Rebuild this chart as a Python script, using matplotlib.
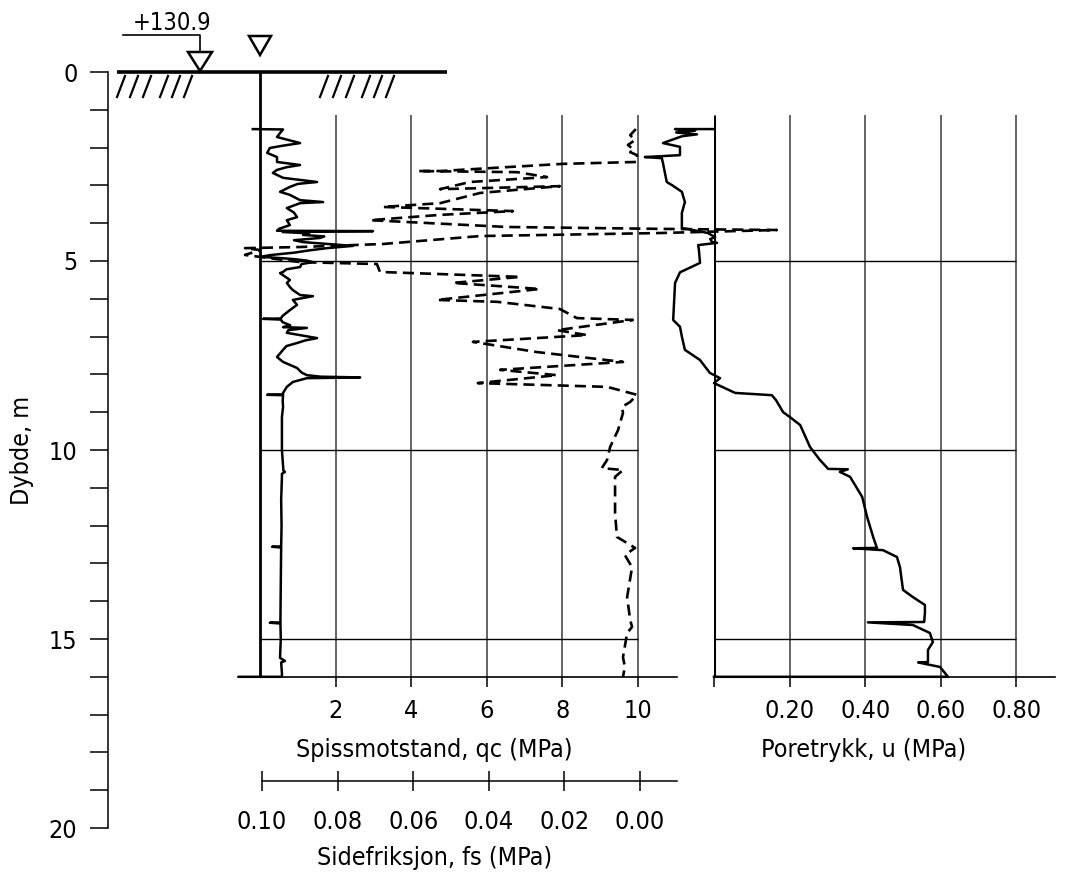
import matplotlib
matplotlib.use('Agg')
import matplotlib.pyplot as plt
from matplotlib.patches import Polygon
from matplotlib import font_manager as fm

# ---------------- data ----------------
qc_depth = [1.51, 1.52, 1.59, 1.72, 1.88, 1.95, 2.01, 2.14, 2.25, 2.38, 2.46, 2.52, 2.59, 2.67,
            2.80, 2.91, 2.96, 3.04, 3.17, 3.25, 3.39, 3.44, 3.47, 3.60, 3.72, 3.84, 3.92, 4.05,
            4.15, 4.20, 4.21, 4.23, 4.27, 4.31, 4.35, 4.39, 4.45, 4.50, 4.55, 4.60, 4.66, 4.72,
            4.78, 4.84, 4.89, 4.92, 4.95, 4.99, 5.03, 5.08, 5.16, 5.22, 5.29, 5.32, 5.50, 5.58,
            5.70, 5.77, 5.90, 5.93, 6.03, 6.16, 6.30, 6.45, 6.52, 6.53, 6.55, 6.62, 6.70, 6.75,
            6.77, 6.83, 6.90, 7.04, 7.10, 7.17, 7.25, 7.35, 7.54, 7.67, 7.83, 7.95, 8.02, 8.06,
            8.08, 8.10, 8.20, 8.33, 8.49, 8.53, 8.54, 8.55, 8.70, 8.86, 9.13, 10.0, 10.55, 10.58,
            10.63, 10.71, 11.32, 12.0, 12.55, 12.56, 12.58, 13.5, 14.56, 14.57, 14.59, 15.0,
            15.50, 15.58, 15.62, 15.90, 16.0, 16.0]
qc_value = [-0.19, 0.61, 0.55, 0.45, 1.06, 0.60, 0.26, 0.19, 0.45, 0.45, 1.06, 0.70, 0.45, 0.34,
            0.61, 1.51, 1.00, 0.79, 0.53, 0.79, 1.06, 1.67, 1.06, 0.71, 0.90, 0.98, 0.71, 0.79,
            0.50, 0.45, 2.99, 0.60, 1.30, 1.14, 1.70, 1.59, 0.90, 1.14, 1.80, 2.46, 1.77, 1.30,
            0.90, 0.30, 0.00, 0.50, 0.90, 1.24, 1.40, 1.10, 1.06, 0.70, 0.61, 0.53, 0.79, 0.71,
            0.80, 0.87, 1.06, 1.40, 0.87, 0.98, 0.79, 0.60, 0.55, 0.08, 0.55, 0.60, 0.80, 0.61,
            1.24, 0.75, 0.71, 1.51, 1.20, 0.98, 0.70, 0.61, 0.45, 0.61, 0.98, 1.10, 1.24, 1.60,
            2.65, 1.24, 0.87, 0.71, 0.61, 0.61, 0.19, 0.61, 0.60, 0.61, 0.58, 0.58, 0.62, 0.66,
            0.58, 0.58, 0.56, 0.57, 0.56, 0.32, 0.56, 0.55, 0.54, 0.26, 0.54, 0.55,
            0.53, 0.66, 0.56, 0.58, 0.58, -0.55]

fs_depth = [1.51, 1.67, 1.80, 1.93, 2.06, 2.12, 2.20, 2.38, 2.43, 2.62, 2.62, 2.65, 2.78, 2.91,
            3.10, 3.02, 3.20, 3.47, 3.57, 3.68, 3.78, 3.92, 4.10, 4.15, 4.18, 4.26, 4.34, 4.55,
            4.63, 4.66, 4.71, 4.84, 5.03, 5.08, 5.29, 5.42, 5.58, 5.74, 6.03, 6.08, 6.27, 6.51,
            6.56, 6.83, 6.96, 7.14, 7.41, 7.67, 7.88, 8.02, 8.23, 8.33, 8.54, 8.73, 8.86, 9.02,
            9.47, 9.92, 10.26, 10.48, 10.53, 10.71, 11.67, 12.30, 12.59, 12.78, 13.10, 13.89,
            14.50, 14.68, 14.84, 15.48, 15.74, 16.00]
fs_value = [0.0011, 0.0026, 0.0013, 0.0032, 0.0016, 0.0026, 0.0008, 0.0008, 0.0204, 0.0529,
            0.0587, 0.0325, 0.0246, 0.0450, 0.0529, 0.0212, 0.0423, 0.0529, 0.0680, 0.0336,
            0.0529, 0.0714, 0.0352, -0.0053, -0.0362, -0.0053, 0.0423, 0.0680, 0.0899, 0.1045,
            0.1005, 0.1045, 0.0899, 0.0696, 0.0688, 0.0317, 0.0495, 0.0265, 0.0537, 0.0378,
            0.0212, 0.0167, 0.0019, 0.0220, 0.0140, 0.0442, 0.0272, 0.0045, 0.0370, 0.0220,
            0.0429, 0.0087, 0.0008, 0.0026, 0.0048, 0.0045, 0.0058, 0.0079, 0.0087, 0.0101,
            0.0045, 0.0066, 0.0066, 0.0061, 0.0013, 0.0040, 0.0021, 0.0034, 0.0026, 0.0021,
            0.0034, 0.0045, 0.0040, 0.0045]

u_depth = [1.51, 1.51, 1.55, 1.60, 1.65, 1.70, 1.88, 1.98, 2.20, 2.25, 2.28, 2.41, 2.91, 3.00,
           3.17, 3.44, 3.73, 4.13, 4.15, 4.26, 4.37, 4.42, 4.50, 4.52, 4.58, 4.70, 5.05, 5.15,
           5.30, 5.58, 6.56, 6.74, 7.00, 7.35, 7.62, 7.96, 8.10, 8.23, 8.49, 8.55, 8.68, 9.00,
           9.13, 9.34, 9.92, 10.26, 10.50, 10.51, 10.58, 10.71, 11.24, 11.77, 12.30, 12.59,
           12.60, 12.65, 12.83, 13.10, 13.70, 13.89, 14.10, 14.31, 14.55, 14.56, 14.63, 14.84,
           15.08, 15.29, 15.61, 15.62, 15.74, 16.00, 16.00]
u_value = [0.000, -0.103, -0.050, -0.100, -0.045, -0.085, -0.135, -0.090, -0.090, -0.183,
           -0.138, -0.135, -0.125, -0.110, -0.085, -0.077, -0.085, -0.085, -0.071, -0.016,
           0.003, -0.010, -0.005, 0.008, -0.042, -0.040, -0.037, -0.058, -0.090, -0.103,
           -0.108, -0.090, -0.085, -0.077, -0.037, -0.011, 0.016, 0.000, 0.056, 0.153, 0.164,
           0.183, 0.201, 0.228, 0.254, 0.280, 0.302, 0.354, 0.333, 0.360, 0.392, 0.405, 0.421,
           0.431, 0.368, 0.447, 0.484, 0.492, 0.500, 0.526, 0.558, 0.558, 0.556, 0.407, 0.526,
           0.571, 0.579, 0.566, 0.566, 0.540, 0.598, 0.619, 0.000]

qc_ticks = [2, 4, 6, 8, 10]
qc_ticklabels = ['2', '4', '6', '8', '10']
fs_ticks = [0.10, 0.08, 0.06, 0.04, 0.02, 0.00]
fs_ticklabels = ['0.10', '0.08', '0.06', '0.04', '0.02', '0.00']
u_ticks = [0.0, 0.2, 0.4, 0.6, 0.8]
u_ticklabels = ['', '0.20', '0.40', '0.60', '0.80']
depth_major = [0, 5, 10, 15, 20]
depth_minor = list(range(0, 21))
grid_depths = [5, 10, 15]
elevation_label = '+130.9'
label_qc = 'Spissmotstand, qc (MPa)'
label_fs = 'Sidefriksjon, fs (MPa)'
label_u = 'Poretrykk, u (MPa)'
label_depth = 'Dybde, m'

# ---------------- font choice (narrow font if available) ----------------
FS = 15.5
family = ['DejaVu Sans']
stretch = 'normal'
try:
    fm.findfont(fm.FontProperties(family='Liberation Sans Narrow'), fallback_to_default=False)
    family = ['Liberation Sans Narrow', 'DejaVu Sans']
    FS = 20
except Exception:
    p = fm.findfont(fm.FontProperties(family='DejaVu Sans', stretch='condensed'))
    if 'Condensed' in p:
        stretch = 'condensed'
        FS = 18
plt.rcParams['font.family'] = family
plt.rcParams['font.stretch'] = stretch

W, H = 1065, 877
fig = plt.figure(figsize=(W / 100, H / 100), dpi=100)


def px_axes(x0, y0, x1, y1):
    a = fig.add_axes([x0 / W, 1 - y1 / H, (x1 - x0) / W, (y1 - y0) / H])
    a.patch.set_visible(False)
    return a


def px_text(x, y, s, **kw):
    return fig.text(x / W, 1 - y / H, s, fontsize=FS, **kw)


PXM = 37.8            # px per metre depth
YT = 72               # pixel of depth 0
YB = YT + 16 * PXM    # pixel of depth 16
QC0, QCPX = 260, 37.8     # qc=0 pixel, px per MPa
FS0, FSPX = 640, 3780     # fs=0 pixel, px per MPa
U0, UPX = 714, 378        # u=0 pixel, px per MPa
GRID_TOP = 1.14
GC = '#3a3a3a'

# left panel: qc
ax1 = px_axes(238, YT, 677, YB)
ax1.set_xlim((238 - QC0) / QCPX, (677 - QC0) / QCPX)
ax1.set_ylim(16, 0)
for s in ['top', 'right', 'left']:
    ax1.spines[s].set_visible(False)
ax1.spines['bottom'].set_linewidth(1.2)
ax1.set_yticks([])
ax1.set_xticks(qc_ticks)
ax1.set_xticklabels(qc_ticklabels)
ax1.tick_params(axis='x', direction='out', length=7, width=1.1, labelsize=FS, pad=9)
ax1.vlines(qc_ticks, GRID_TOP, 16, color=GC, lw=1.1)
ax1.hlines(grid_depths, 0, 10, color='k', lw=1.0)
ax1.vlines(0, 0, 16, color='k', lw=2.0)
ax1.plot(qc_value, qc_depth, color='k', lw=1.8, clip_on=False, solid_joinstyle='round')

# fs curve on a twin x axis
axf = ax1.twiny()
axf.patch.set_visible(False)
axf.set_xlim((FS0 - 238) / FSPX, (FS0 - 677) / FSPX)
axf.axis('off')
axf.plot(fs_value, fs_depth, color='k', lw=1.9, dashes=(4.2, 2.3), clip_on=False)

# fs scale
axs = px_axes(262, 780, 677, 780.5)
axs.set_xlim((FS0 - 262) / FSPX, (FS0 - 677) / FSPX)
for s in ['top', 'right', 'left']:
    axs.spines[s].set_visible(False)
axs.spines['bottom'].set_linewidth(1.1)
axs.set_yticks([])
axs.set_xticks(fs_ticks)
axs.set_xticklabels(fs_ticklabels)
axs.tick_params(axis='x', direction='inout', length=15, width=1.1, labelsize=FS, pad=14)

# right panel: u
axu = px_axes(U0, YT, 1055, YB)
axu.set_xlim(0, (1055 - U0) / UPX)
axu.set_ylim(16, 0)
for s in ['top', 'right', 'left']:
    axu.spines[s].set_visible(False)
axu.spines['bottom'].set_linewidth(1.2)
axu.set_yticks([])
axu.set_xticks(u_ticks)
axu.set_xticklabels(u_ticklabels)
axu.tick_params(axis='x', direction='out', length=7, width=1.1, labelsize=FS, pad=9)
axu.vlines(u_ticks[1:], GRID_TOP, 16, color=GC, lw=1.1)
axu.hlines(grid_depths, 0, 0.8, color='k', lw=1.0)
axu.vlines(0, GRID_TOP, 16, color='k', lw=2.2)
axu.plot(u_value, u_depth, color='k', lw=1.8, clip_on=False)

# depth axis
axd = px_axes(108, YT, 109, YT + 20 * PXM)
axd.set_ylim(20, 0)
for s in ['top', 'right', 'bottom']:
    axd.spines[s].set_visible(False)
axd.spines['left'].set_linewidth(1.1)
axd.set_xticks([])
axd.set_yticks(depth_major)
axd.set_yticks(depth_minor, minor=True)
axd.tick_params(axis='y', which='both', direction='out', length=13, width=1.1, labelsize=FS, pad=9)

# axis titles
px_text(434, 750, label_qc, ha='center', va='center')
px_text(435, 858, label_fs, ha='center', va='center')
px_text(864, 750, label_u, ha='center', va='center')
px_text(22, 450, label_depth, ha='center', va='center', rotation=90)

# overlay: ground line, hatching, level symbols
axo = fig.add_axes([0, 0, 1, 1])
axo.set_xlim(0, W)
axo.set_ylim(H, 0)
axo.axis('off')
axo.patch.set_visible(False)
for x in [117, 130, 143, 160, 172, 184, 320, 333, 346, 362, 374, 386]:
    axo.plot([x, x + 8], [97, 76], color='k', lw=1.6)
axo.add_patch(Polygon([(188, 52), (212, 52), (200, 71)], closed=True, fc='white', ec='k', lw=1.8))
axo.add_patch(Polygon([(249, 36), (271, 36), (260, 55)], closed=True, fc='white', ec='k', lw=1.8))
axo.plot([123, 200, 200], [35, 35, 52], color='k', lw=1.2)
axo.plot([117, 447], [72, 72], color='k', lw=2.6, solid_capstyle='butt')
axo.text(172, 30, elevation_label, ha='center', va='baseline', fontsize=FS - 1)

fig.savefig('out.png', dpi=100)
